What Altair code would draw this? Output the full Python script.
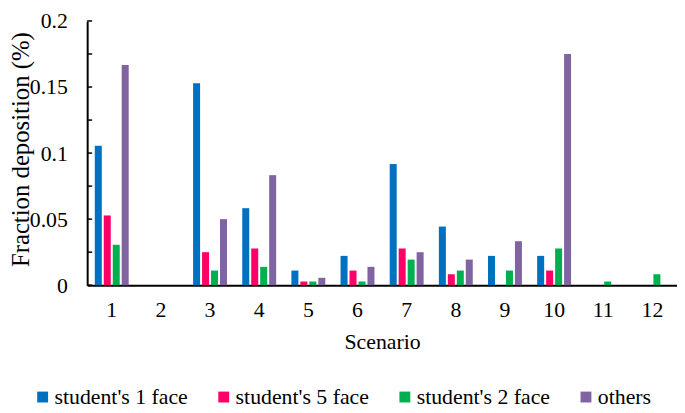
import altair as alt
import pandas as pd

scenarios = ["1", "2", "3", "4", "5", "6", "7", "8", "9", "10", "11", "12"]
series = ["student's 1 face", "student's 5 face", "student's 2 face", "others"]
colors = ["#0070C0", "#FF0066", "#00B050", "#8064A2"]

s1_face = [0.1056, 0, 0.1528, 0.0583, 0.0111, 0.0222, 0.0917, 0.0444, 0.0222, 0.0222, 0, 0]
s5_face = [0.0528, 0, 0.025, 0.0278, 0.0028, 0.0111, 0.0278, 0.0083, 0, 0.0111, 0, 0]
s2_face = [0.0306, 0, 0.0111, 0.0139, 0.0028, 0.0028, 0.0194, 0.0111, 0.0111, 0.0278, 0.0028, 0.0083]
others = [0.1667, 0, 0.05, 0.0833, 0.0056, 0.0139, 0.025, 0.0194, 0.0333, 0.175, 0, 0]

y_label_values = [0, 0.05, 0.1, 0.15, 0.2]
y_ticks = [0, 0.025, 0.05, 0.075, 0.1, 0.125, 0.15, 0.175, 0.2]

rows = []
for name, vals in zip(series, [s1_face, s5_face, s2_face, others]):
    for sc, v in zip(scenarios, vals):
        rows.append({"Scenario": sc, "series": name, "value": v})
df = pd.DataFrame(rows)
tick_df = pd.DataFrame({"value": y_ticks})

FONT = "'Liberation Serif', 'Times New Roman', Times, 'DejaVu Serif', serif"
H = 267

y_axis = alt.Axis(title="Fraction deposition (%)", values=y_label_values,
                  format="~g", ticks=False, grid=False, labelPadding=20,
                  titleFontSize=25,
                  titleX=-67, titleY=H / 2 - 4, titleAlign="center",
                  titleBaseline="middle", titleAngle=-90)
y_scale = alt.Scale(domain=[0, 0.2], nice=False)

bars = alt.Chart(df).mark_bar().encode(
    x=alt.X("Scenario:N", sort=scenarios,
            scale=alt.Scale(paddingInner=0.31, paddingOuter=0.155),
            axis=alt.Axis(title="Scenario", labelAngle=0, ticks=False,
                          labelPadding=15, titlePadding=11)),
    xOffset=alt.XOffset("series:N", sort=series, scale=alt.Scale(paddingInner=0.22)),
    y=alt.Y("value:Q", scale=y_scale, axis=y_axis),
    color=alt.Color("series:N", sort=series,
                    scale=alt.Scale(domain=series, range=colors),
                    legend=alt.Legend(title=None, orient="none", direction="horizontal",
                                      legendX=-56, legendY=369,
                                      symbolType="square", symbolSize=121,
                                      symbolStrokeWidth=0, labelOffset=1,
                                      columnPadding=25, labelFontSize=22,
                                      labelLimit=400,
                                      labelFont=FONT, labelColor="black")),
)

ticks = alt.Chart(tick_df).mark_rule(color="black", strokeWidth=1.5).encode(
    y=alt.Y("value:Q", scale=y_scale, axis=y_axis),
    x=alt.value(0),
    x2=alt.value(5),
)

chart = alt.layer(bars, ticks).properties(
    width=596, height=H,
    autosize=alt.AutoSizeParams(type="none"),
    padding={"left": 80, "top": 11, "right": 0, "bottom": 125},
).configure_view(stroke=None).configure_axis(
    domainColor="black", domainWidth=2, labelFont=FONT, titleFont=FONT,
    labelFontSize=22, titleFontSize=22, labelColor="black", titleColor="black",
    titleFontWeight="normal", grid=False,
)

chart.save("out.html", embed_options={"renderer": "svg", "actions": False})
